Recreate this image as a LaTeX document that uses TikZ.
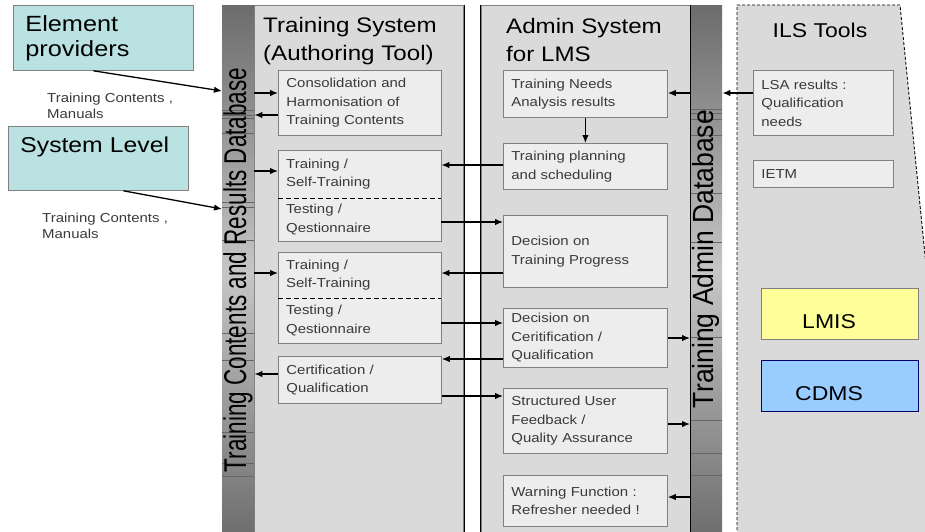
\documentclass[tikz,border=0pt]{standalone}
\usepackage{fontspec}
\usepackage{graphicx}
\setmainfont{Liberation Sans}[FakeStretch=1.15]
\newfontfamily\barfont{Liberation Sans}
\usetikzlibrary{arrows.meta}
\definecolor{panelgray}{HTML}{DADADA}
\definecolor{boxgray}{HTML}{EDEDED}
\definecolor{boxline}{HTML}{808080}
\definecolor{provcyan}{HTML}{BAE2E2}
\definecolor{lmisyellow}{HTML}{FFFF99}
\definecolor{cdmsblue}{HTML}{99CCFF}
\definecolor{bardark}{HTML}{6C6C6C}
\definecolor{barlight}{HTML}{C6C6C6}
\definecolor{boxtext}{HTML}{3A3A3A}

\begin{document}
\begin{tikzpicture}[x=1pt,y=-1pt,
    box/.style={draw=boxline, line width=0.8pt, fill=boxgray, anchor=north west, align=left,
      inner xsep=8pt, inner ysep=0pt, text=boxtext, font=\fontsize{13}{18.5}\selectfont},
    part/.style={fill=boxgray, anchor=north west, align=left, inner xsep=8pt, inner ysep=0pt,
      text width=147pt, text=boxtext, font=\fontsize{13}{18.5}\selectfont},
    tsbox/.style={box, text width=147pt},
    adbox/.style={box, text width=148pt},
    ilsbox/.style={box, text width=124pt},
    provbox/.style={draw=boxline, line width=0.8pt, fill=provcyan, anchor=north west, align=left,
      inner xsep=12pt, inner ysep=0pt, text width=156pt, minimum height=65pt},
    colbox/.style={anchor=north west, align=left, inner ysep=0pt, minimum height=51pt,
      text height=40pt, text depth=11pt, font=\fontsize{20}{20}\selectfont},
    title/.style={anchor=north west, align=left, inner sep=0pt, font=\fontsize{21}{28}\selectfont},
    flow/.style={anchor=north west, align=left, inner sep=0pt, text=boxtext,
      font=\fontsize{13}{16}\selectfont},
    dbbar/.style={anchor=north west, inner sep=0pt, minimum width=32pt, minimum height=536pt,
      top color=bardark, bottom color=bardark, middle color=barlight},
    bartext/.style={rotate=90, inner sep=0pt},
    arr/.style={-{Latex[length=8pt,width=6.5pt]}, line width=1.3pt},
    barline/.style={draw=black!60, line width=0.4pt}]

    \useasboundingbox (0,0) rectangle (925,531);

    \draw[boxline, line width=0.8pt, fill=panelgray] (254,5) rectangle (463,545);
    \draw[boxline, line width=0.8pt, fill=panelgray] (481,5) rectangle (690,545);
    \draw[line width=1pt] (464,5) -- (464,545);
    \draw[line width=1pt] (480,5) -- (480,545);
    \fill[panelgray] (737,5) -- (900,5) -- (930,305) -- (930,545) -- (737,545) -- cycle;
    \draw[line width=0.9pt, dash pattern=on 3pt off 2pt] (737,545) -- (737,5) -- (900,5) -- (930,305);

    \node[dbbar] (dbl) at (222,5) {};
    \node[dbbar] (dbr) at (690,5) {};
    \foreach \yy in {110,115,118,133,202,207,240,333,360,432,463,476}
        \draw[barline] (222,\yy) -- (254,\yy);
    \foreach \yy in {109,113,119,135,193,242,337,420,453,475}
        \draw[barline] (690,\yy) -- (722,\yy);
    \draw[line width=1pt] (690,5) -- (690,545);

    \node[bartext] (dbltext) at (238,270) {\scalebox{1}[1.4]{\barfont\fontsize{22.5}{22.5}\selectfont Training Contents and Results Database}};
    \node[bartext] (dbrtext) at (706,259) {\scalebox{1}[1.1]{\barfont\fontsize{26.5}{26.5}\selectfont Training Admin Database}};

    \node[title] (tstitle) at (263,17) {Training System\\(Authoring Tool)};
    \node[title] (adtitle) at (506,18) {Admin System\\for LMS};
    \node[anchor=base, inner sep=0pt, font=\fontsize{20}{20}\selectfont] (ilstitle) at (820,37) {ILS Tools};

    \node[provbox, font=\fontsize{22}{25}\selectfont] (prov) at (13,5) {Element\\providers};
    \node[provbox, font=\fontsize{21.5}{21.5}\selectfont, minimum height=0pt, inner xsep=12pt,
      text height=26pt, text depth=38pt] (sys) at (8,126) {System Level};
    \node[flow] (flowa) at (47,92.5) {Training Contents ,\\Manuals};
    \node[flow] (flowb) at (42,212.5) {Training Contents ,\\Manuals};

    \node[tsbox, minimum height=65pt] (cons) at (278,70) {Consolidation and\\Harmonisation of\\Training Contents};
    \node[part, minimum height=48pt] (trA) at (278,150) {Training /\\Self-Training};
    \node[part, minimum height=43pt] (teA) at (278,198) {Testing /\\Qestionnaire};
    \node[part, minimum height=46pt] (trB) at (278,252) {Training /\\Self-Training};
    \node[part, minimum height=45pt] (teB) at (278,298) {Testing /\\Qestionnaire};
    \draw[boxline, line width=0.8pt] (trA.north west) rectangle (teA.south east);
    \draw[boxline, line width=0.8pt] (trB.north west) rectangle (teB.south east);
    \draw[line width=1pt, dash pattern=on 5pt off 3pt] (trA.south west) -- (trA.south east);
    \draw[line width=1pt, dash pattern=on 5pt off 3pt] (trB.south west) -- (trB.south east);
    \node[tsbox, minimum height=47pt] (cert) at (278,356) {Certification /\\Qualification};

    \node[adbox, minimum height=47pt] (needs) at (503,70) {Training Needs\\Analysis results};
    \node[adbox, minimum height=46pt] (plan) at (503,143) {Training planning\\and scheduling};
    \node[adbox, minimum height=72pt] (prog) at (503,215) {Decision on\\Training Progress};
    \node[adbox, minimum height=59pt] (cdec) at (503,308) {Decision on\\Ceritification /\\Qualification};
    \node[adbox, minimum height=65pt] (fb) at (503,388) {Structured User\\Feedback /\\Quality Assurance};
    \node[adbox, minimum height=51pt] (warn) at (503,475) {Warning Function :\\Refresher needed !};

    \node[ilsbox, minimum height=65pt] (lsa) at (753,70) {LSA results :\\Qualification\\needs};
    \node[ilsbox, minimum height=27pt] (ietm) at (753,160) {IETM};
    \node[colbox, draw=boxline, fill=lmisyellow, text width=75pt, inner xsep=41pt] (lmis) at (761,288) {LMIS};
    \node[colbox, draw=blue!40!black, fill=cdmsblue, text width=89pt, inner xsep=34pt] (cdms) at (761,360) {CDMS};

    \draw[arr] ([xshift=-10pt]prov.south) -- (dbl.west |- 0,91);
    \draw[arr] ([xshift=25pt]sys.south) -- (dbl.west |- 0,209);
    \draw[arr] (dbl.east |- 0,93) -- (cons.west |- 0,93);
    \draw[arr] (cons.west |- 0,115) -- (dbl.east |- 0,115);
    \draw[arr] (dbl.east |- 0,171) -- (trA.west |- 0,171);
    \draw[arr] (dbl.east |- 0,273) -- (trB.west |- 0,273);
    \draw[arr] (cert.west |- 0,374) -- (dbl.east |- 0,374);
    \draw[arr] (plan.west |- 0,165) -- (trA.east |- 0,165);
    \draw[arr] (teA.east |- 0,222) -- (prog.west |- 0,222);
    \draw[arr] (prog.west |- 0,273) -- (trB.east |- 0,273);
    \draw[arr] (teB.east |- 0,323) -- (cdec.west |- 0,323);
    \draw[arr] (cdec.west |- 0,359) -- (cert.east |- 0,359);
    \draw[arr] (cert.east |- 0,396) -- (fb.west |- 0,396);
    \draw[arr] (needs.south) -- (plan.north);
    \draw[arr] (dbr.west |- 0,93) -- (needs.east |- 0,93);
    \draw[arr] (lsa.west |- 0,93) -- (dbr.east |- 0,93);
    \draw[arr] (cdec.east |- 0,338) -- (dbr.west |- 0,338);
    \draw[arr] (fb.east |- 0,424) -- (dbr.west |- 0,424);
    \draw[arr] (dbr.west |- 0,497) -- (warn.east |- 0,497);

\end{tikzpicture}
\end{document}
